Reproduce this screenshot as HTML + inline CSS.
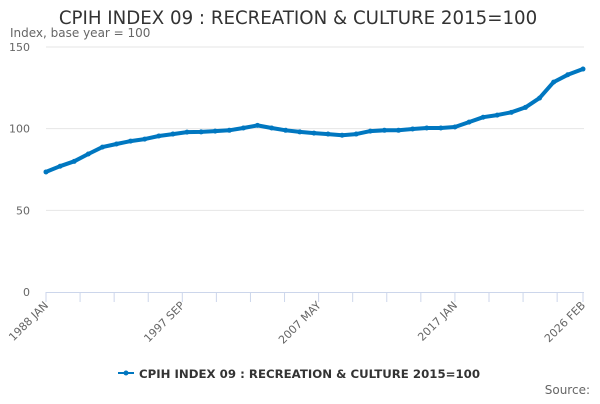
<!DOCTYPE html>
<html><head><meta charset="utf-8"><style>
body{margin:0;width:600px;height:400px;background:#fff;font-family:"DejaVu Sans","Liberation Sans",sans-serif;overflow:hidden}
</style></head><body>
<svg width="600" height="400" xmlns="http://www.w3.org/2000/svg">
<text x="298" y="24" text-anchor="middle" font-size="18.2" fill="#333">CPIH INDEX 09 : RECREATION &amp; CULTURE 2015=100</text>
<text x="10" y="37" font-size="12" fill="#666">Index, base year = 100</text>
<g id="grid"></g><g id="xaxis"></g><g id="series"></g>
<g>
<line x1="118" y1="373" x2="134" y2="373" stroke="#0077c0" stroke-width="2"/>
<circle cx="126" cy="373" r="2.5" fill="#0077c0"/>
<text x="139" y="378" font-size="11.75" font-weight="bold" fill="#333">CPIH INDEX 09 : RECREATION &amp; CULTURE 2015=100</text>
</g>
<text x="590" y="394" text-anchor="end" font-size="12" fill="#666">Source:</text>
</svg>
<script>
const tickLabels=["1988 JAN","1997 SEP","2007 MAY","2017 JAN","2026 FEB"];
const tickMonths=[0,116,232,348,457];
const yTicks=[0,50,100,150];
const pointMonths=[0,12,24,36,48,60,72,84,96,108,120,132,144,156,168,180,192,204,216,228,240,252,264,276,288,300,312,324,336,348,360,372,384,396,408,420,432,444,457];
const values=[73.5,77,80,84.5,88.7,90.6,92.4,93.6,95.5,96.7,97.9,98,98.5,99,100.4,102,100.4,99,98,97.3,96.7,96,96.7,98.5,99,99,99.8,100.4,100.4,101,104,107,108.3,110,113,118.7,128.5,133,136.5];
const NS="http://www.w3.org/2000/svg";
const x0=46,x1=583,y0=292,y1=47,maxM=457,maxV=150;
const xs=m=>x0+m/maxM*(x1-x0);
const ys=v=>y0-v/maxV*(y0-y1);
function mk(t,a,p){const e=document.createElementNS(NS,t);for(const k in a)e.setAttribute(k,a[k]);p.appendChild(e);return e;}
const grid=document.getElementById('grid');
yTicks.forEach(v=>{
 if(v>0){const l=mk('line',{x1:x0,x2:x1+1,y1:ys(v),y2:ys(v),stroke:'#e6e6e6'},grid);
 
 }
 const t=mk('text',{x:30,y:ys(v)+4,'text-anchor':'end','font-size':'11',fill:'#666'},grid);t.textContent=v;
 
 
});
const xa=document.getElementById('xaxis');
const ax=mk('line',{x1:x0,x2:x1+1,y1:y0+0.5,y2:y0+0.5,stroke:'#ccd6eb'},xa);


for(let m=0;m<=maxM;m+=29){mk('line',{x1:xs(m),x2:xs(m),y1:y0,y2:y0+10,stroke:'#ccd6eb'},xa);}
mk('line',{x1:xs(maxM),x2:xs(maxM),y1:y0,y2:y0+10,stroke:'#ccd6eb'},xa);
tickLabels.forEach((s,i)=>{const x=xs(tickMonths[i]);
 const t=mk('text',{x:x+3,y:y0+14,'text-anchor':'end','font-size':'11',fill:'#666',transform:`rotate(-45 ${x+3} ${y0+14})`},xa);t.textContent=s;
 
 });
const sg=document.getElementById('series');
const pts=values.map((v,i)=>xs(pointMonths[i]).toFixed(1)+','+ys(v).toFixed(1)).join(' ');
const pl=mk('polyline',{points:pts,fill:'none',stroke:'#0077c0','stroke-width':4,'stroke-linejoin':'round','stroke-linecap':'round'},sg);


values.forEach((v,i)=>{const c=mk('circle',{cx:xs(pointMonths[i]),cy:ys(v),r:2.5,fill:'#0077c0'},sg);
 
 });
</script>
</body></html>
